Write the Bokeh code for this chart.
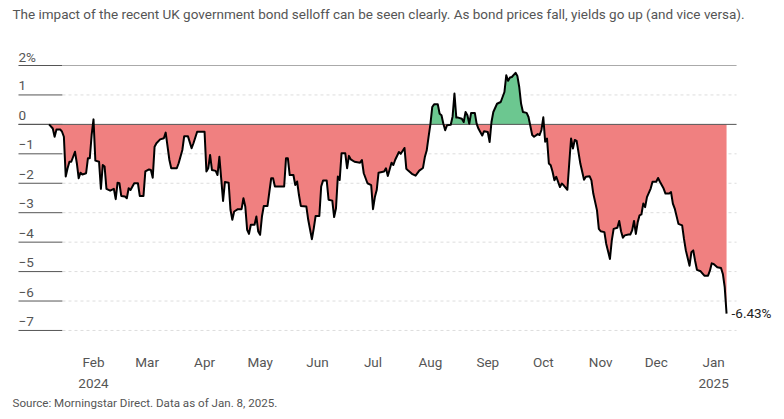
import numpy as np
from bokeh.plotting import figure
from bokeh.models import Range1d, FixedTicker, LinearAxis, Title
from bokeh.core.properties import value
from bokeh.embed import file_html
from bokeh.resources import INLINE

# ---------------- data ----------------
title_text = ("The impact of the recent UK government bond selloff can be seen clearly. "
              "As bond prices fall, yields go up (and vice versa).")
source_text = "Source: Morningstar Direct. Data as of Jan. 8, 2025."

start_date = "2024-01-08"  # day 0
day_offsets = [0, 2, 3, 4, 6, 7, 8, 9, 10, 11, 12, 14, 15, 16, 17, 18, 20, 21, 22, 23, 24, 25, 27, 28, 29, 30,
               31, 33, 35, 36, 37, 38, 39, 41, 42, 43, 44, 46, 48, 49, 51, 52, 54, 55, 56, 57, 58, 60, 62, 63,
               65, 66, 69, 70, 72, 73, 75, 77, 78, 80, 81, 84, 85, 86, 87, 88, 90, 91, 92, 93, 94, 95, 97, 98,
               99, 100, 102, 104, 105, 106, 107, 108, 109, 111, 112, 113, 114, 115, 116, 118, 120, 121, 122,
               127, 128, 129, 130, 132, 133, 134, 135, 136, 139, 140, 142, 143, 144, 146, 147, 148, 150, 151,
               153, 154, 155, 156, 157, 158, 160, 161, 162, 163, 165, 168, 169, 170, 172, 174, 175, 176, 177,
               178, 181, 182, 183, 185, 186, 187, 189, 190, 192, 193, 194, 196, 198, 200, 202, 203, 204, 205,
               206, 207, 208, 210, 211, 212, 213, 214, 215, 217, 218, 219, 220, 221, 223, 224, 225, 226, 227,
               228, 230, 231, 232, 234, 235, 237, 238, 239, 240, 242, 244, 246, 247, 248, 249, 250, 252, 253,
               254, 255, 256, 258, 259, 261, 262, 264, 265, 266, 267, 268, 269, 270, 271, 272, 273, 274, 276,
               277, 278, 280, 281, 282, 283, 284, 285, 287, 289, 290, 292, 293, 294, 296, 297, 298, 300, 301,
               303, 304, 305, 307, 308, 309, 310, 311, 313, 314, 315, 316, 317, 318, 319, 320, 321, 322, 323,
               325, 326, 328, 329, 330, 332, 333, 335, 336, 337, 338, 340, 342, 343, 344, 346, 347, 348, 349,
               350, 352, 354, 356, 357, 358, 359, 361, 363, 364, 365, 366]
returns_pct = [0.0, -0.14, -0.42, -0.17, -0.17, -0.25, -0.42, -1.77, -1.49, -1.27, -1.27, -0.93, -1.32, -1.83,
               -1.64, -1.70, -1.66, -1.15, -1.15, -0.36, 0.17, -1.23, -1.27, -2.19, -1.38, -1.43, -2.19, -2.25,
               -2.19, -2.54, -1.98, -2.00, -2.43, -2.45, -2.51, -2.17, -2.23, -2.00, -2.00, -2.43, -2.43, -1.60,
               -1.53, -1.55, -1.81, -0.76, -0.64, -0.51, -0.47, -0.28, -1.21, -1.49, -1.49, -1.32, -0.87, -0.40,
               -0.40, -0.81, -0.64, -0.25, -0.25, -0.25, -1.60, -1.49, -1.04, -1.55, -1.58, -1.72, -1.10, -1.85,
               -2.60, -1.96, -1.98, -2.90, -3.24, -2.96, -2.88, -2.88, -2.51, -2.79, -3.58, -3.72, -3.41, -3.41,
               -3.13, -3.64, -3.75, -3.13, -2.77, -2.77, -1.83, -1.83, -2.11, -2.11, -1.15, -1.15, -1.72, -1.72,
               -2.06, -1.94, -2.40, -2.77, -2.79, -3.24, -3.90, -3.53, -3.11, -3.11, -2.11, -1.91, -1.91, -2.56,
               -2.59, -3.15, -2.85, -1.77, -1.89, -0.98, -0.98, -1.49, -1.07, -1.19, -1.27, -1.30, -1.21, -1.66,
               -2.00, -2.06, -2.88, -2.47, -2.23, -1.64, -1.60, -1.49, -1.75, -1.30, -1.38, -1.20, -0.94, -1.00,
               -0.80, -1.51, -1.57, -1.68, -1.74, -1.57, -1.48, -1.11, -0.89, -0.43, 0.00, 0.59, 0.68, 0.68,
               0.36, 0.31, 0.02, -0.20, -0.03, -0.01, 0.27, 1.05, 0.23, 0.23, 0.19, 0.08, 0.42, 0.31, 0.02,
               0.39, 0.39, 0.02, -0.15, -0.38, -0.23, -0.26, -0.60, 0.08, 0.42, 0.70, 0.76, 1.10, 1.67, 1.48,
               1.59, 1.61, 1.75, 1.64, 1.27, 0.70, 0.42, 0.39, 0.25, -0.36, -0.42, -0.33, -0.36, -0.19, 0.24,
               -0.59, -0.48, -1.33, -1.39, -1.61, -1.90, -1.78, -2.13, -2.01, -2.07, -2.22, -1.33, -0.48, -0.82,
               -0.53, -0.56, -1.33, -1.88, -1.78, -1.76, -1.90, -2.35, -2.92, -3.55, -3.63, -3.66, -4.06, -4.57,
               -3.94, -3.55, -3.51, -3.28, -3.63, -3.85, -3.77, -3.74, -3.74, -3.60, -3.28, -3.72, -3.32, -3.09,
               -3.06, -2.69, -2.81, -2.47, -2.18, -1.95, -1.95, -1.82, -1.95, -2.18, -2.35, -2.35, -2.30, -2.69,
               -2.86, -3.38, -3.43, -3.89, -4.28, -4.80, -4.34, -4.28, -4.63, -4.94, -4.99, -5.14, -5.14, -4.97,
               -4.72, -4.74, -4.85, -4.88, -5.08, -5.53, -6.43]
end_label = "-6.43%"

month_ticks = [24, 53, 84, 114, 145, 175, 206, 237, 267, 298, 328, 359]
month_labels = ["Feb", "Mar", "Apr", "May", "Jun", "Jul", "Aug", "Sep", "Oct", "Nov", "Dec", "Jan"]
year_ticks = [24, 359]
year_labels = ["2024", "2025"]
y_ticks = [2, 1, 0, -1, -2, -3, -4, -5, -6, -7]
y_tick_labels = ["2%", "1", "0", "\u22121", "\u22122", "\u22123", "\u22124", "\u22125", "\u22126", "\u22127"]

# ---------------- style ----------------
FONT = "Roboto"
TXT = "#555555"
RED = "#f08080"
GREEN = "#6cc790"

# geometry (days / percent)
X0, X1 = -26.24, 397.3
Y0, Y1 = -7.341, 4.208
GRID_L, GRID_SOLID_END, GRID_R = -16.52, 7.25, 371.4

p = figure(frame_width=784, frame_height=340, x_range=Range1d(X0, X1), y_range=Range1d(Y0, Y1),
           output_backend="svg", toolbar_location=None, y_axis_location=None, min_border=0,
           background_fill_color="white", border_fill_color="white")
p.outline_line_color = None
p.grid.visible = False

# gridlines
for t in y_ticks:
    p.segment(x0=[GRID_L], y0=[t], x1=[GRID_SOLID_END], y1=[t], line_color="#555555", line_width=1)
    if t == 2:
        p.segment(x0=[GRID_SOLID_END], y0=[t], x1=[GRID_R], y1=[t], line_color="#aaaaaa", line_width=1)
    elif t != 0:
        p.segment(x0=[GRID_SOLID_END], y0=[t], x1=[GRID_R], y1=[t], line_color="#dddddd",
                  line_width=1, line_dash="3 3")

# fills with zero crossings inserted
fx, fy = [], []
for i, (d, v) in enumerate(zip(day_offsets, returns_pct)):
    if i > 0:
        pv, pd_ = returns_pct[i - 1], day_offsets[i - 1]
        if (pv < 0 < v) or (pv > 0 > v):
            tt = pv / (pv - v)
            fx.append(pd_ + tt * (d - pd_))
            fy.append(0.0)
    fx.append(d)
    fy.append(v)
fy = np.array(fy)
p.varea(x=fx, y1=np.minimum(fy, 0), y2=0, fill_color=RED)
p.varea(x=fx, y1=0, y2=np.maximum(fy, 0), fill_color=GREEN)

# zero line
p.segment(x0=[GRID_L], y0=[0], x1=[GRID_R], y1=[0], line_color="#555555", line_width=1)

# data line
p.line(day_offsets, returns_pct, line_color="black", line_width=2, line_join="round")

# end label
p.text(x=[day_offsets[-1]], y=[returns_pct[-1]], text=[end_label], x_offset=5, y_offset=-1,
       text_font=value(FONT), text_font_size="13.5px", text_color="#222222",
       text_baseline="middle", text_align="left")

# y tick labels
p.text(x=[GRID_L] * len(y_ticks), y=y_ticks, text=y_tick_labels, y_offset=-9,
       text_font=value(FONT), text_font_size="13.5px", text_color=TXT,
       text_baseline="alphabetic", text_align="left")

# title
p.text(x=[-19.76], y=[3.766], text=[title_text], text_font=value(FONT), text_font_size="13.5px",
       text_color="#555555", text_baseline="middle", text_align="left")

# x axes
ax = p.xaxis[0]
ax.ticker = FixedTicker(ticks=month_ticks)
ax.major_label_overrides = {t: l for t, l in zip(month_ticks, month_labels)}
ax.axis_line_color = None
ax.major_tick_line_color = None
ax.minor_tick_line_color = None
ax.major_label_standoff = 7
ax.major_label_text_font = FONT
ax.major_label_text_font_size = "13.5px"
ax.major_label_text_color = TXT

ax2 = LinearAxis(ticker=FixedTicker(ticks=year_ticks),
                 major_label_overrides={t: l for t, l in zip(year_ticks, year_labels)})
ax2.axis_line_color = None
ax2.major_tick_line_color = None
ax2.minor_tick_line_color = None
ax2.major_label_standoff = 0
ax2.major_label_text_font = FONT
ax2.major_label_text_font_size = "13.5px"
ax2.major_label_text_color = TXT
p.add_layout(ax2, "below")

src = Title(text=source_text, align="left", offset=12, standoff=6, text_font=FONT,
            text_font_size="11.6px", text_font_style="normal", text_color="#555555")
p.add_layout(src, "below")

open("out.html", "w").write(file_html(p, INLINE))
